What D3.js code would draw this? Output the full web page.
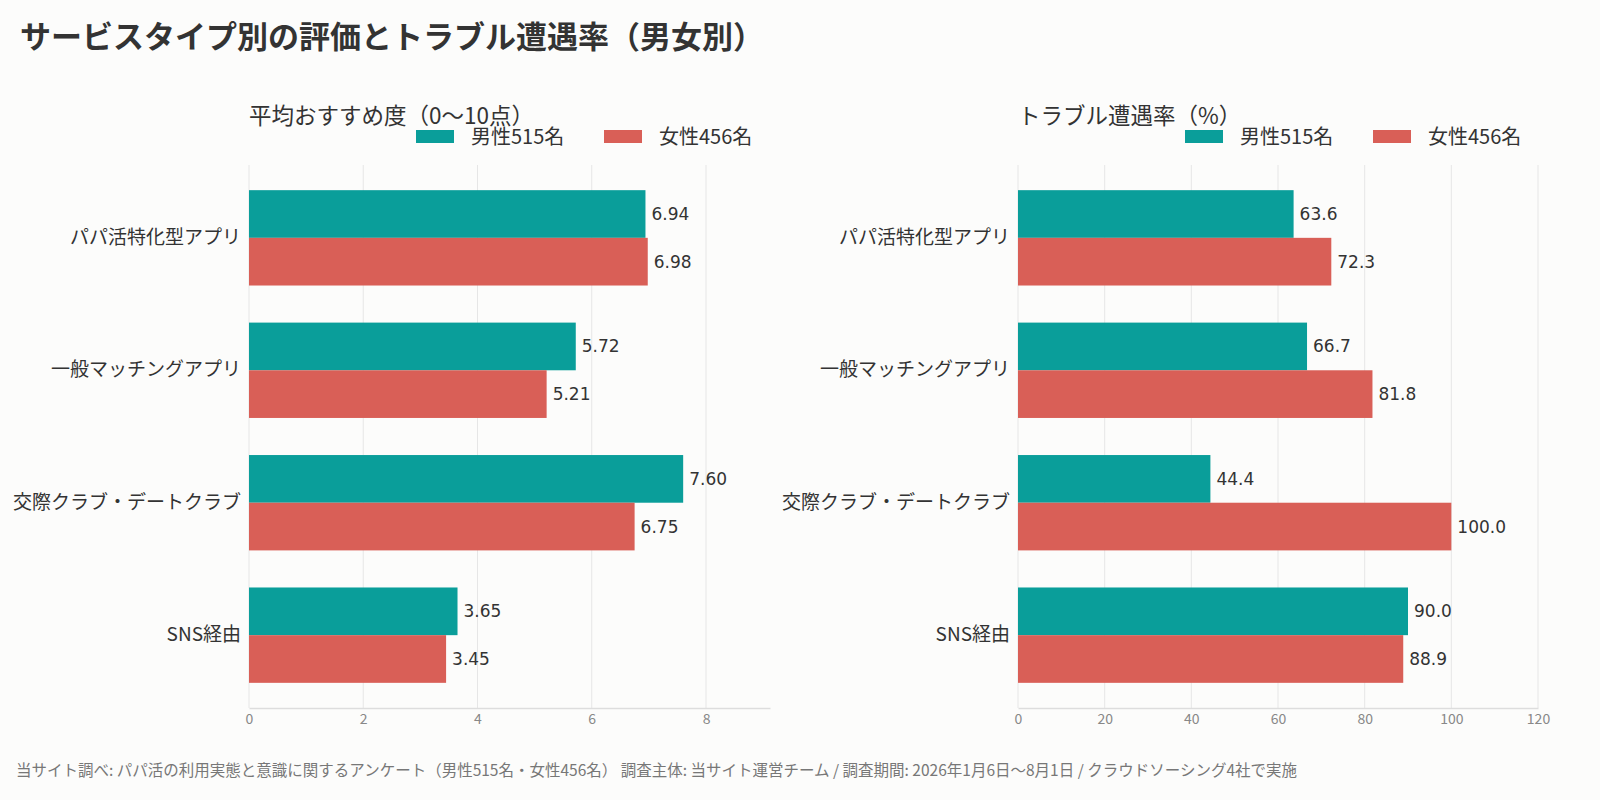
<!DOCTYPE html>
<html>
<head>
<meta charset="utf-8">
<script src="https://d3js.org/d3.v7.min.js"></script>
<style>
  html, body { margin: 0; padding: 0; background: #fcfcfb; overflow: hidden; }
  svg { display: block; }
  svg text { font-family: "Noto Sans CJK JP", "Noto Sans", sans-serif; }
</style>
</head>
<body>
<div id="chart"></div>
<script>
    // data
    var categories = ["パパ活特化型アプリ", "一般マッチングアプリ", "交際クラブ・デートクラブ", "SNS経由"];
    var seriesNames = ["男性515名", "女性456名"];
    var scoreMale = [6.94, 5.72, 7.60, 3.65];
    var scoreFemale = [6.98, 5.21, 6.75, 3.45];
    var troubleMale = [63.6, 66.7, 44.4, 90.0];
    var troubleFemale = [72.3, 81.8, 100.0, 88.9];
    var scoreTicks = [0, 2, 4, 6, 8];
    var troubleTicks = [0, 20, 40, 60, 80, 100, 120];

    var colors = ["#0a9e9a", "#d95f57"];
    var W = 1600, H = 800;
    var plotTop = 165, plotBottom = 708;

    var svg = d3.select("#chart").append("svg")
        .attr("width", W).attr("height", H);

    svg.append("rect").attr("width", W).attr("height", H).attr("fill", "#fcfcfb");

    svg.append("text")
        .attr("x", 20).attr("y", 48)
        .attr("font-size", 31).attr("font-weight", "bold")
        .attr("fill", "#333")
        .text("サービスタイプ別の評価とトラブル遭遇率（男女別）");

    svg.append("text")
        .attr("x", 16).attr("y", 776)
        .attr("font-size", 15.5).attr("fill", "#777")
        .text("当サイト調べ: パパ活の利用実態と意識に関するアンケート（男性515名・女性456名） 調査主体: 当サイト運営チーム / 調査期間: 2026年1月6日〜8月1日 / クラウドソーシング4社で実施");

    function panel(x0, x1, title, male, female, maxV, ticks, fmt) {
        var g = svg.append("g");

        var x = d3.scaleLinear().domain([0, maxV]).range([x0, x1]);
        var y = d3.scaleBand().domain(categories).range([plotTop, plotBottom])
            .paddingInner(0.28).paddingOuter(0.19);
        var y2 = d3.scaleBand().domain([0, 1]).range([0, y.bandwidth()]);

        // grid
        g.selectAll(".grid").data(ticks).enter().append("line")
            .attr("x1", function(d) { return x(d); })
            .attr("x2", function(d) { return x(d); })
            .attr("y1", plotTop).attr("y2", plotBottom)
            .attr("stroke", "#e6e6e6").attr("stroke-width", 1);

        // x axis
        var xAxis = g.append("g")
            .attr("transform", "translate(0," + plotBottom + ")")
            .call(d3.axisBottom(x).tickValues(ticks).tickSize(0).tickPadding(6));
        xAxis.select(".domain").attr("stroke", "#dddddd").attr("stroke-width", 1.5);
        xAxis.selectAll("text").attr("font-size", 14).attr("fill", "#888");

        // y labels
        var yAxis = g.append("g")
            .attr("transform", "translate(" + x0 + ",0)")
            .call(d3.axisLeft(y).tickSize(0).tickPadding(8));
        yAxis.select(".domain").remove();
        yAxis.selectAll("text").attr("font-size", 19).attr("fill", "#333");

        var rows = [];
        categories.forEach(function(c, i) {
            rows.push({cat: c, s: 0, v: male[i]});
            rows.push({cat: c, s: 1, v: female[i]});
        });

        g.selectAll(".bar").data(rows).enter().append("rect")
            .attr("x", x(0))
            .attr("y", function(d) { return y(d.cat) + y2(d.s); })
            .attr("width", function(d) { return x(d.v) - x(0); })
            .attr("height", y2.bandwidth())
            .attr("fill", function(d) { return colors[d.s]; });

        g.selectAll(".val").data(rows).enter().append("text")
            .attr("x", function(d) { return x(d.v) + 6; })
            .attr("y", function(d) { return y(d.cat) + y2(d.s) + y2.bandwidth() / 2; })
            .attr("dy", "0.35em")
            .style("font-family", "'DejaVu Sans', sans-serif")
            .attr("font-size", 17).attr("fill", "#333")
            .text(function(d) { return fmt(d.v); });

        // panel title
        g.append("text")
            .attr("x", x0).attr("y", 124)
            .attr("font-size", 22.5).attr("fill", "#333")
            .text(title);

        // legend
        var lx = [x0 + 167, x0 + 355];
        seriesNames.forEach(function(n, i) {
            g.append("rect")
                .attr("x", lx[i]).attr("y", 130)
                .attr("width", 38).attr("height", 13)
                .attr("fill", colors[i]);
            g.append("text")
                .attr("x", lx[i] + 55).attr("y", 144)
                .attr("font-size", 20).attr("fill", "#333")
                .text(n);
        });
    }

    panel(249, 770, "平均おすすめ度（0〜10点）", scoreMale, scoreFemale, 7.6 * 1.2, scoreTicks, d3.format(".2f"));
    panel(1018, 1538, "トラブル遭遇率（%）", troubleMale, troubleFemale, 120, troubleTicks, d3.format(".1f"));
</script>
</body>
</html>
